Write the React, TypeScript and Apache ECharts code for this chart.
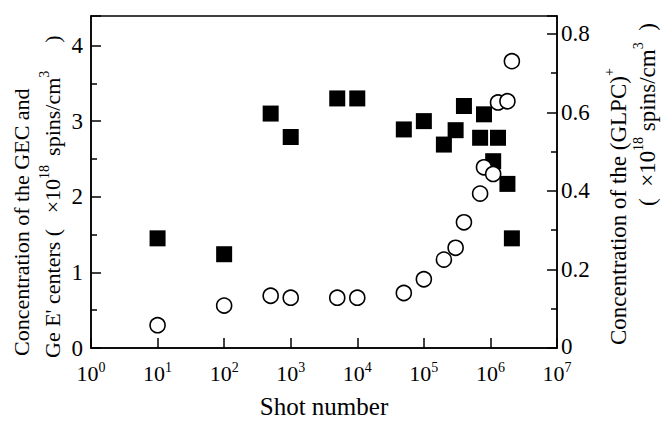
import React, { useEffect, useRef } from "react";
import * as echarts from "echarts";

const shotNumbers = [10, 100, 500, 1000, 5000, 1e4, 5e4, 1e5, 2e5, 3e5, 4e5, 7e5, 8e5, 1.1e6, 1.3e6, 1.8e6, 2.1e6];
const gecValues = [1.45, 1.24, 3.1, 2.79, 3.3, 3.3, 2.89, 3.0, 2.69, 2.88, 3.2, 2.78, 3.09, 2.47, 2.78, 2.17, 1.45];
const glpcValues = [0.058, 0.108, 0.133, 0.128, 0.128, 0.128, 0.14, 0.175, 0.225, 0.255, 0.32, 0.393, 0.46, 0.443, 0.625, 0.628, 0.73];
const leftTicks = [0, 1, 2, 3, 4];
const rightTicks = [0, 0.2, 0.4, 0.6, 0.8];

const FONT = "'Liberation Serif', 'Times New Roman', serif";

export default function App() {
  const ref = useRef<HTMLDivElement>(null);
  useEffect(() => {
    const chart = echarts.init(ref.current!, null, { renderer: "svg" });
    const mk = (size: number, supSize: number) => ({
      t: { fontSize: size, fontFamily: FONT, color: "#000", verticalAlign: "bottom", lineHeight: size + 4 },
      s: { fontSize: supSize, fontFamily: FONT, color: "#000", verticalAlign: "top", lineHeight: supSize },
      a: { width: 10, fontSize: size, fontFamily: FONT, verticalAlign: "bottom", lineHeight: size + 4 },
      b: { width: 9, fontSize: size, fontFamily: FONT, verticalAlign: "bottom", lineHeight: size + 4 },
      c: { width: 28, fontSize: size, fontFamily: FONT, verticalAlign: "bottom", lineHeight: size + 4 },
    });
    chart.setOption({
      animation: false,
      backgroundColor: "#fff",
      grid: { left: 91, right: 106, top: 16, bottom: 70, show: true, borderColor: "#000", borderWidth: 1.5 },
      xAxis: {
        type: "log",
        logBase: 10,
        min: 1,
        max: 1e7,
        axisLine: { lineStyle: { color: "#000", width: 1.5 } },
        axisTick: { inside: true, length: 10, lineStyle: { color: "#000", width: 1.5 } },
        splitLine: { show: false },
        minorTick: { show: false },
        axisLabel: {
          margin: 12,
          formatter: (v: number) => `{b|10}{s|${Math.round(Math.log10(v))}}`,
          rich: {
            b: { fontSize: 22, fontFamily: FONT, color: "#000", verticalAlign: "bottom", lineHeight: 24 },
            s: { fontSize: 14, fontFamily: FONT, color: "#000", verticalAlign: "top", lineHeight: 14 },
          },
        },
        name: "Shot number",
        nameLocation: "middle",
        nameGap: 46,
        nameTextStyle: { fontSize: 25, fontFamily: FONT, color: "#000" },
      },
      yAxis: [
        {
          type: "value",
          min: 0,
          max: 4.39,
          interval: 1,
          axisLine: { show: true, lineStyle: { color: "#000", width: 1.5 } },
          axisTick: { inside: true, length: 10, lineStyle: { color: "#000", width: 1.5 } },
          minorTick: { show: true, splitNumber: 2, length: 6, lineStyle: { color: "#000", width: 1.5 } },
          splitLine: { show: false },
          axisLabel: {
            showMaxLabel: false,
            margin: 8,
            fontSize: 23,
            fontFamily: FONT,
            color: "#000",
            formatter: (v: number) => (leftTicks.includes(v) ? String(v) : ""),
          },
        },
        {
          type: "value",
          position: "right",
          min: 0,
          max: 0.845,
          interval: 0.2,
          axisLine: { show: true, lineStyle: { color: "#000", width: 1.5 } },
          axisTick: { inside: true, length: 10, lineStyle: { color: "#000", width: 1.5 } },
          minorTick: { show: true, splitNumber: 2, length: 6, lineStyle: { color: "#000", width: 1.5 } },
          splitLine: { show: false },
          axisLabel: {
            showMaxLabel: false,
            margin: 4,
            fontSize: 23,
            fontFamily: FONT,
            color: "#000",
            formatter: (v: number) => {
              const m = rightTicks.find((r) => Math.abs(r - v) < 1e-6);
              if (m === undefined) return "";
              return m === 0 ? "{z|0}" : m.toFixed(1);
            },
            rich: {
              z: { fontSize: 23, fontFamily: FONT, color: "#000", padding: [0, 0, 4, 0] },
            },
          },
        },
      ],
      series: [
        {
          type: "scatter",
          yAxisIndex: 0,
          symbol: "rect",
          symbolSize: 16,
          itemStyle: { color: "#000", opacity: 1 },
          data: shotNumbers.map((x, i) => [x, gecValues[i]]),
          z: 2,
        },
        {
          type: "scatter",
          yAxisIndex: 1,
          symbol: "circle",
          symbolSize: 15,
          itemStyle: { color: "#fff", borderColor: "#000", borderWidth: 1.6, opacity: 1 },
          data: shotNumbers.map((x, i) => [x, glpcValues[i]]),
          z: 3,
        },
      ],
      graphic: [
        {
          type: "text",
          x: 21,
          y: 356,
          rotation: Math.PI / 2,
          style: {
            text: "Concentration of the GEC and",
            font: `22px ${FONT}`,
            fill: "#000",
            align: "left",
            verticalAlign: "middle",
          },
        },
        {
          type: "text",
          x: 50,
          y: 358,
          rotation: Math.PI / 2,
          style: {
            text: "{t|Ge E' centers (}{a| }{t| ×10}{s|18}{b| }{t|spins/cm}{s|3}{c| }{t|)}",
            rich: mk(22, 14),
            align: "left",
            verticalAlign: "middle",
          },
        },
        {
          type: "text",
          x: 616,
          y: 345,
          rotation: Math.PI / 2,
          style: {
            text: "{t|Concentration of the (GLPC)}{s|+}",
            rich: mk(23, 14),
            align: "left",
            verticalAlign: "middle",
          },
        },
        {
          type: "text",
          x: 645,
          y: 206,
          rotation: Math.PI / 2,
          style: {
            text: "{t|(  ×10}{s|18}{t| spins/cm}{s|3}{t|  )}",
            rich: mk(23, 14),
            align: "left",
            verticalAlign: "middle",
          },
        },
      ],
    });
    return () => chart.dispose();
  }, []);
  return (
    <div
      ref={ref}
      style={{ position: "absolute", left: 0, top: 0, width: 663, height: 424, background: "#fff" }}
    />
  );
}
